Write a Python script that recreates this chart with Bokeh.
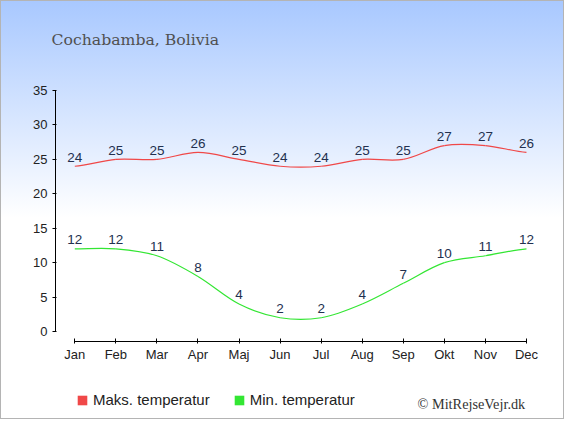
import numpy as np
from bokeh.plotting import figure
from bokeh.models import (FixedTicker, Range1d, Label, Legend, LegendItem,
                          ColumnDataSource)
from bokeh.core.properties import value
from bokeh.embed import file_html
from bokeh.resources import INLINE

# ---- data ----
months = ["Jan", "Feb", "Mar", "Apr", "Maj", "Jun", "Jul", "Aug", "Sep", "Okt", "Nov", "Dec"]
max_temp = [24, 25, 25, 26, 25, 24, 24, 25, 25, 27, 27, 26]
min_temp = [12, 12, 11, 8, 4, 2, 2, 4, 7, 10, 11, 12]
y_ticks = [0, 5, 10, 15, 20, 25, 30, 35]
title_text = "Cochabamba, Bolivia"
max_label = "Maks. temperatur"
min_label = "Min. temperatur"
credit = "\u00a9 MitRejseVejr.dk"

MAX_COLOR = "#f04848"
MIN_COLOR = "#33e633"
LABEL_COLOR = "#22304f"

xs = list(range(len(months)))

W, H = 564, 419
# pixel geometry of the chart area
X0_PX, XU = 74.3, 41.06      # screen x of first month, px per month
Y0_PX, YU = 331.0, 6.886     # screen y of 0 degrees, px per degree

p = figure(width=W, height=H, output_backend="svg", toolbar_location=None,
           x_range=Range1d(-X0_PX / XU, (W - X0_PX) / XU),
           y_range=Range1d(-(H - Y0_PX) / YU, Y0_PX / YU),
           min_border=0)
p.background_fill_alpha = 0
p.border_fill_alpha = 0
p.outline_line_color = None
p.styles = {
    "background": "linear-gradient(to bottom, #a8c8ff 0%, #ffffff 52%, #ffffff 100%)",
    "outline": "1px solid #b4b4b4",
    "outline-offset": "-1px",
}
p.xgrid.visible = False
p.ygrid.visible = False


def bezier_source(ys):
    ys = np.asarray(ys, dtype=float)
    n = len(ys)
    m = np.zeros(n)
    m[1:-1] = (ys[2:] - ys[:-2]) / 2.0
    m[0] = (ys[1] - ys[0]) / 2.0
    m[-1] = (ys[-1] - ys[-2]) / 2.0
    x = np.arange(n, dtype=float)
    return ColumnDataSource(dict(
        x0=x[:-1], y0=ys[:-1], x1=x[1:], y1=ys[1:],
        cx0=x[:-1] + 1 / 3, cy0=ys[:-1] + m[:-1] / 3,
        cx1=x[1:] - 1 / 3, cy1=ys[1:] - m[1:] / 3,
    ))


legend_items = []
for ys, col, lab in ((max_temp, MAX_COLOR, max_label), (min_temp, MIN_COLOR, min_label)):
    p.bezier(x0="x0", y0="y0", x1="x1", y1="y1", cx0="cx0", cy0="cy0",
             cx1="cx1", cy1="cy1", source=bezier_source(ys),
             line_color=col, line_width=1.2)
    p.text(x=xs, y=ys, text=[str(v) for v in ys], text_align="center",
           text_baseline="alphabetic", y_offset=-9, text_color=LABEL_COLOR,
           text_font_size="13.5px", text_font=value("Liberation Sans"))
    # zero-area quads at the data points: invisible in the plot, filled
    # squares in the legend
    proxy = p.quad(left=xs, right=xs, top=ys, bottom=ys, fill_color=col,
                   line_color=None)
    legend_items.append(LegendItem(label=lab, renderers=[proxy]))

legend = Legend(items=legend_items,
                orientation="horizontal", location=(76, 11),
                glyph_width=12, glyph_height=12, label_height=16,
                label_standoff=5, spacing=23, padding=0, margin=0,
                border_line_color=None, background_fill_alpha=0,
                label_text_font="Liberation Sans", label_text_font_size="15px",
                label_text_color="#222222")
p.add_layout(legend, "center")

# axes drawn at fixed positions inside the full-canvas frame
for ax in (p.xaxis[0], p.yaxis[0]):
    ax.axis_line_color = "#000000"
    ax.major_tick_line_color = "#000000"
    ax.minor_tick_line_color = None
    ax.major_label_text_font = "Liberation Sans"
    ax.major_label_text_font_size = "13px"
    ax.major_label_text_color = "#222222"

p.xaxis.ticker = FixedTicker(ticks=xs)
p.xaxis.major_label_overrides = {i: m for i, m in enumerate(months)}
p.xaxis.bounds = (0, len(months) - 1)
p.xaxis.fixed_location = -(341 - Y0_PX) / YU
p.xaxis.major_tick_in = 3
p.xaxis.major_tick_out = 2
p.xaxis.major_label_standoff = 3

p.yaxis.ticker = FixedTicker(ticks=y_ticks)
p.yaxis.bounds = (y_ticks[0], y_ticks[-1])
p.yaxis.fixed_location = (55 - X0_PX) / XU
p.yaxis.major_tick_in = 1
p.yaxis.major_tick_out = 3
p.yaxis.major_label_standoff = 5

p.add_layout(Label(x=51, y=H - 39, x_units="screen", y_units="screen",
                   text=title_text, text_font="DejaVu Serif",
                   text_font_size="15.7px", text_color="#505050",
                   text_baseline="alphabetic"))
p.add_layout(Label(x=417, y=H - 403, x_units="screen", y_units="screen",
                   text=credit, text_font="Liberation Serif",
                   text_font_size="14.3px", text_color="#333333",
                   text_baseline="alphabetic"))

open("out.html", "w").write(file_html(p, INLINE))
